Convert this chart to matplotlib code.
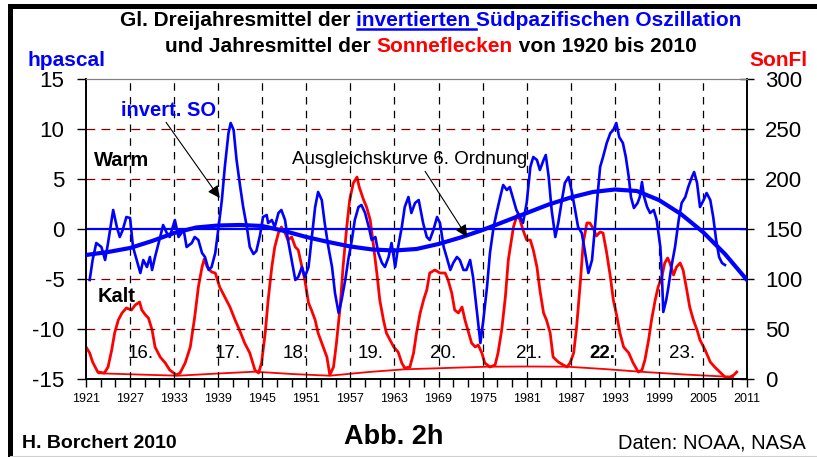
import matplotlib
matplotlib.use("Agg")
import matplotlib.pyplot as plt
from matplotlib.lines import Line2D
from matplotlib import font_manager

plt.rcParams['font.family'] = ['Liberation Sans', 'DejaVu Sans']
names = {f.name for f in font_manager.fontManager.ttflist}
NARROW = 'Liberation Sans Narrow' if 'Liberation Sans Narrow' in names else 'Liberation Sans'

# ---------------- data ----------------
so_years = [1921.5, 1921.9, 1922.4, 1923.1, 1923.6, 1924.0, 1924.7, 1925.2, 1925.6, 1926.0,
            1926.5, 1927.0, 1927.4, 1927.9, 1928.4, 1928.8, 1929.3, 1929.7, 1930.0, 1930.4,
            1931.1, 1931.5, 1932.0, 1932.4, 1933.1, 1933.6, 1934.3, 1934.7, 1935.4, 1935.8,
            1936.3, 1936.8, 1937.2, 1937.7, 1938.1, 1938.6, 1939.0, 1939.5, 1939.9, 1940.4,
            1940.7, 1941.1, 1941.5, 1942.0, 1942.4, 1942.9, 1943.3, 1943.8, 1944.2, 1944.7,
            1945.1, 1945.6, 1945.8, 1946.3, 1946.7, 1947.2, 1947.6, 1948.1, 1948.5, 1949.0,
            1949.5, 1949.9, 1950.4, 1950.8, 1951.3, 1951.7, 1952.2, 1952.6, 1953.1, 1953.5,
            1954.0, 1954.5, 1954.9, 1955.4, 1955.8, 1956.3, 1956.7, 1957.2, 1957.6, 1958.1,
            1958.5, 1959.0, 1959.5, 1959.9, 1960.4, 1960.8, 1961.3, 1961.7, 1962.2, 1962.6,
            1963.1, 1963.5, 1964.0, 1964.4, 1964.9, 1965.3, 1965.8, 1966.3, 1966.9, 1967.4,
            1967.8, 1968.3, 1968.8, 1969.2, 1969.7, 1970.1, 1970.6, 1971.0, 1971.5, 1971.9,
            1972.4, 1972.8, 1973.3, 1973.7, 1974.2, 1974.7, 1975.1, 1975.6, 1976.0, 1976.5,
            1976.9, 1977.4, 1977.8, 1978.3, 1978.7, 1979.2, 1979.6, 1980.1, 1980.5, 1981.0,
            1981.5, 1981.9, 1982.4, 1982.8, 1983.3, 1983.6, 1984.0, 1984.4, 1984.9, 1985.3,
            1985.8, 1986.2, 1986.7, 1987.1, 1987.6, 1988.0, 1988.5, 1988.9, 1989.4, 1989.9,
            1990.3, 1990.6, 1991.0, 1991.4, 1991.9, 1992.4, 1992.8, 1993.2, 1993.6, 1994.1,
            1994.5, 1994.9, 1995.2, 1995.6, 1996.1, 1996.4, 1996.7, 1997.0, 1997.4, 1997.8,
            1998.3, 1998.7, 1999.2, 1999.4, 1999.6, 2000.0, 2000.3, 2000.7, 2001.2, 2001.7,
            2002.1, 2002.6, 2003.0, 2003.5, 2003.8, 2004.2, 2004.6, 2005.1, 2005.5, 2006.0,
            2006.4, 2006.8, 2007.2, 2007.6, 2008.0]
so_values = [-5.1, -3.1, -1.4, -1.8, -3.1, -1.4, 1.9, 0.2, -0.8, -0.1,
             1.2, 1.1, -1.8, -3.1, -4.4, -3.1, -3.8, -2.8, -4.1, -2.8,
             -0.8, 0.4, -0.4, -0.8, 0.9, -0.8, -0.1, -1.8, -1.4, -0.8,
             -1.1, -2.4, -2.8, -4.1, -3.8, -2.4, -0.1, 2.9, 6.2, 9.6,
             10.6, 9.9, 6.9, 4.2, 2.2, 0.2, -1.8, -2.5, -2.2, -0.6,
             1.2, 1.4, 0.6, 0.9, 0.2, 1.6, 1.9, 0.9, -1.1, -3.1,
             -5.1, -4.8, -3.8, -4.8, -3.8, -1.1, 2.2, 3.7, 2.9, 0.6,
             -1.8, -3.8, -6.4, -8.4, -7.1, -5.1, -3.1, -1.1, 0.9, 2.2,
             2.4, 1.6, 0.2, -1.1, -0.8, -2.4, -3.4, -3.8, -2.8, -1.4,
             -3.8, -1.8, 0.2, 2.2, 3.2, 1.6, 2.6, 2.9, 0.6, -0.8,
             -1.1, -0.1, 1.2, 0.6, -1.8, -2.8, -4.1, -3.4, -2.8, -3.1,
             -4.1, -4.1, -3.1, -4.8, -8.1, -11.4, -9.1, -5.8, -2.4, 0.2,
             1.6, 3.2, 4.4, 3.9, 4.2, 2.9, 1.9, 1.2, 0.6, 2.6,
             6.2, 7.2, 6.9, 5.9, 6.9, 7.4, 5.2, 1.9, -0.8, 0.6,
             2.9, 4.6, 5.2, 3.9, 1.9, 0.2, -0.4, -2.1, -4.4, -3.1,
             0.2, 2.9, 6.2, 7.2, 8.6, 9.6, 9.9, 10.6, 9.2, 8.6,
             7.2, 5.2, 3.2, 2.1, 2.6, 3.2, 4.7, 3.2, 2.2, 1.6,
             1.9, 0.9, -1.8, -4.4, -8.3, -7.1, -5.8, -3.8, -1.8, 0.9,
             2.6, 3.2, 4.2, 5.2, 5.7, 4.6, 2.2, 2.9, 3.6, 2.9,
             1.2, -1.1, -2.8, -3.4, -3.6]

fit_years = [1921, 1924, 1927, 1930, 1933, 1936, 1939, 1942, 1945, 1948,
             1951, 1954, 1957, 1960, 1963, 1966, 1969, 1972, 1975, 1978,
             1981, 1984, 1987, 1990, 1993, 1996, 1999, 2002, 2005, 2008, 2011]
fit_values = [-2.6, -2.3, -1.9, -1.2, -0.4, 0.15, 0.35, 0.4, 0.3, -0.2,
              -0.8, -1.3, -1.75, -2.05, -2.15, -2.0, -1.5, -0.85, -0.1, 0.75,
              1.6, 2.45, 3.15, 3.7, 3.95, 3.8, 2.9, 1.5, -0.3, -2.5, -5.1]

ss_years = [1921.0, 1921.5, 1921.9, 1922.6, 1923.5, 1924.0, 1924.5, 1924.9, 1925.4, 1925.9,
            1926.5, 1927.2, 1927.7, 1928.3, 1928.6, 1929.1, 1929.5, 1930.0, 1930.4, 1931.1,
            1931.8, 1932.4, 1933.3, 1933.8, 1934.5, 1935.2, 1935.8, 1936.3, 1936.8, 1937.1,
            1937.5, 1938.1, 1938.6, 1939.2, 1939.9, 1940.6, 1941.3, 1941.9, 1942.6, 1943.3,
            1944.0, 1944.5, 1944.9, 1945.4, 1945.8, 1946.3, 1946.7, 1947.2, 1947.6, 1948.1,
            1948.5, 1949.0, 1949.5, 1949.9, 1950.4, 1950.8, 1951.3, 1951.7, 1952.2, 1952.6,
            1953.1, 1953.8, 1954.2, 1954.7, 1955.1, 1955.6, 1956.0, 1956.5, 1956.9, 1957.4,
            1957.9, 1958.2, 1958.8, 1959.2, 1959.7, 1960.1, 1960.6, 1961.0, 1961.5, 1961.9,
            1962.4, 1962.9, 1963.5, 1964.0, 1964.4, 1965.1, 1965.6, 1966.0, 1966.5, 1967.0,
            1967.4, 1967.8, 1968.5, 1969.2, 1969.9, 1970.3, 1970.8, 1971.2, 1971.7, 1972.2,
            1972.6, 1973.1, 1973.5, 1974.0, 1974.4, 1974.9, 1975.3, 1976.0, 1976.7, 1977.1,
            1977.6, 1978.1, 1978.5, 1979.2, 1979.7, 1980.1, 1980.5, 1981.0, 1981.5, 1981.9,
            1982.4, 1982.8, 1983.3, 1983.7, 1984.2, 1984.6, 1985.3, 1986.0, 1986.5, 1986.9,
            1987.4, 1987.8, 1988.3, 1988.7, 1989.2, 1989.6, 1990.1, 1990.5, 1991.0, 1991.4,
            1991.9, 1992.4, 1992.8, 1993.3, 1993.7, 1994.2, 1994.9, 1995.5, 1996.2, 1996.7,
            1997.1, 1997.6, 1998.0, 1998.5, 1998.9, 1999.4, 1999.8, 2000.2, 2000.5, 2001.0,
            2001.4, 2001.9, 2002.3, 2002.8, 2003.2, 2003.7, 2004.2, 2004.6, 2005.3, 2006.0,
            2006.6, 2007.3, 2008.0, 2008.7, 2009.2, 2009.6]
ss_values = [32, 26, 17, 7, 6, 12, 29, 46, 59, 66,
             71, 69, 74, 77, 69, 64, 61, 49, 32, 22,
             16, 9, 4, 6, 16, 32, 62, 92, 112, 120,
             112, 107, 106, 92, 82, 72, 59, 49, 36, 26,
             9, 6, 16, 46, 79, 112, 132, 146, 152, 146,
             139, 142, 132, 129, 112, 99, 76, 69, 59, 46,
             36, 22, 4, 12, 36, 72, 112, 152, 179, 196,
             202, 192, 179, 172, 159, 136, 106, 79, 59, 46,
             39, 32, 27, 16, 11, 12, 26, 46, 66, 80,
             89, 106, 109, 106, 106, 99, 86, 69, 66, 72,
             59, 46, 36, 32, 34, 26, 16, 12, 14, 26,
             49, 82, 119, 152, 164, 159, 149, 139, 139, 129,
             112, 89, 66, 59, 46, 22, 17, 14, 12, 16,
             26, 52, 96, 136, 156, 156, 150, 143, 147, 146,
             126, 102, 79, 62, 46, 32, 26, 16, 7, 9,
             19, 39, 59, 79, 92, 102, 116, 121, 116, 104,
             112, 116, 109, 89, 72, 59, 49, 39, 29, 17,
             12, 7, 2, 2, 4, 7]

base_years = [1922.7, 1928.0, 1933.5, 1939.0, 1944.0, 1949.0, 1954.2, 1959.5, 1964.4, 1970.0,
              1975.6, 1981.0, 1986.5, 1991.5, 1996.4, 2002.5, 2009.1]
base_values = [5.7, 4.5, 3.3, 5.5, 7.3, 5.0, 3.3, 7.0, 9.7, 11.0,
               12.3, 12.5, 12.3, 10.0, 7.3, 4.5, 2.0]

cycle_labels = ['16.', '17.', '18.', '19.', '20.', '21.', '22.', '23.']
cycle_years = [1928.4, 1940.3, 1949.5, 1959.8, 1969.6, 1981.3, 1991.3, 2002.2]

xtick_years = list(range(1921, 2012, 6))
left_ticks = [-15, -10, -5, 0, 5, 10, 15]
right_ticks = [0, 50, 100, 150, 200, 250, 300]

BLUE = '#0000FF'
RED = '#FF0000'
DARKRED = '#800000'

W, H = 817, 457

# ---------------- figure ----------------
fig = plt.figure(figsize=(W/100, H/100), dpi=100)
ax = fig.add_axes([86/W, 1-379/H, (747-86)/W, (379-79)/H])
ax2 = ax.twinx()
ax.set_zorder(ax2.get_zorder() + 1)
ax.patch.set_visible(False)

ax.set_xlim(1921, 2011)
ax.set_ylim(-15, 15)
ax2.set_ylim(0, 300)

# grid lines
for y in [-10, -5, 5, 10]:
    ax.axhline(y, color=DARKRED, lw=0.9, ls=(0, (7, 5)), zorder=1)
for x in xtick_years[1:-1]:
    ax.axvline(x, color='black', lw=0.9, ls=(0, (6, 5)), zorder=1)
ax.axhline(0, color=BLUE, lw=1.6, zorder=2)

# sunspots (right axis)
ax2.plot(ss_years, ss_values, color=RED, lw=2.0, solid_joinstyle='round')
ax2.plot(base_years, base_values, color=RED, lw=1.3)

# SO and fit (left axis)
ax.plot(so_years, so_values, color=BLUE, lw=1.9, zorder=4, solid_joinstyle='round')
ax.plot(fit_years, fit_values, color=BLUE, lw=3.0, zorder=5)

# ticks
ax.set_xticks(xtick_years)
ax.set_xticks(list(range(1921, 2012, 2)), minor=True)
ax.set_xticklabels([str(y) for y in xtick_years], fontsize=9, family=[NARROW, 'DejaVu Sans'])
ax.tick_params(axis='x', which='both', direction='out', length=6, width=1, pad=4)
ax.set_yticks(left_ticks)
ax.set_yticklabels([str(v) for v in left_ticks], fontsize=16)
ax.tick_params(axis='y', direction='out', length=6.5, width=1, pad=9)
ax2.set_yticks(right_ticks)
ax2.set_yticklabels([str(v) for v in right_ticks], fontsize=16)
ax2.tick_params(axis='y', direction='inout', length=10, width=1, pad=8)

for a in (ax, ax2):
    a.spines['top'].set_color('#808080')
    a.spines['left'].set_linewidth(1.2)
    a.spines['right'].set_linewidth(1.2)
    a.spines['bottom'].set_linewidth(1.2)

# cycle labels
for lab, yr in zip(cycle_labels, cycle_years):
    ax.text(yr, -12.4, lab, fontsize=13.5, ha='center', va='center',
            fontweight='bold' if lab == '22.' else 'normal', zorder=6)

# annotations
ax.text(1925.8, 6.9, 'Warm', fontsize=14.5, fontweight='bold', ha='center', va='center')
ax.text(1925.2, -6.7, 'Kalt', fontsize=14.5, fontweight='bold', ha='center', va='center')
ax.annotate('invert. SO', xy=(1939.2, 3.1), xytext=(1925.8, 11.9),
            fontsize=14.5, fontweight='bold', color=BLUE, ha='left', va='center',
            arrowprops=dict(arrowstyle='-|>', color='black', lw=0.8,
                            mutation_scale=18, shrinkA=0, shrinkB=0,
                            relpos=(0.45, 0.0)), zorder=7)
ax.annotate('Ausgleichskurve 6. Ordnung', xy=(1972.9, -0.8), xytext=(1949.0, 6.9),
            fontsize=13.5, color='black', ha='left', va='center',
            arrowprops=dict(arrowstyle='-|>', color='black', lw=0.8,
                            mutation_scale=18, shrinkA=0, shrinkB=0,
                            relpos=(0.56, 0.0)), zorder=7)

# axis titles
fig.text(28/W, 1-61/H, 'hpascal', fontsize=15, fontweight='bold', color=BLUE,
         ha='left', va='center')
fig.text(808/W, 1-61/H, 'SonFl', fontsize=15, fontweight='bold', color=RED,
         ha='right', va='center')

# title (two lines with coloured parts)
def colored_line(parts, y, xc, fs=15):
    r = fig.canvas.get_renderer()
    objs = []
    for txt, col, ul in parts:
        t = fig.text(0, y, txt, fontsize=fs, fontweight='bold', color=col,
                     ha='left', va='center', family=[NARROW, 'DejaVu Sans'])
        objs.append((t, ul, col))
    widths = [t.get_window_extent(renderer=r).width for t, _, _ in objs]
    total = sum(widths)
    x = xc - total/2
    for (t, ul, col), w in zip(objs, widths):
        t.set_x(x / W)
        if ul:
            bb = t.get_window_extent(renderer=r)
            yl = bb.y0 + 1
            fig.add_artist(Line2D([x/W, (x+w)/W], [yl/H, yl/H],
                                  color=col, lw=1.8, transform=fig.transFigure))
        x += w

fig.canvas.draw()
colored_line([('Gl. Dreijahresmittel der ', 'black', False),
              ('invertierten ', BLUE, True),
              ('Südpazifischen Oszillation', BLUE, False)], 1-20/H, 431)
colored_line([('und Jahresmittel der ', 'black', False),
              ('Sonneflecken', RED, False),
              (' von 1920 bis 2010', 'black', False)], 1-47/H, 431)

# footer
fig.text(22/W, 1-443/H, 'H. Borchert 2010', fontsize=14, fontweight='bold',
         ha='left', va='center', family=[NARROW, 'DejaVu Sans'])
fig.text(394/W, 1-437/H, 'Abb. 2h', fontsize=19.5, fontweight='bold',
         ha='center', va='center')
fig.text(806/W, 1-443/H, 'Daten: NOAA, NASA', fontsize=14.5,
         ha='right', va='center', family=[NARROW, 'DejaVu Sans'])

# figure frame (left and top thick black)
fig.add_artist(Line2D([9.5/W, 9.5/W], [0.5/H, 1-6/H], color='black', lw=3.6,
                      transform=fig.transFigure, solid_capstyle='projecting'))
fig.add_artist(Line2D([9.5/W, 1.0], [1-6/H, 1-6/H], color='black', lw=3.6,
                      transform=fig.transFigure, solid_capstyle='projecting'))
fig.add_artist(Line2D([9.5/W, 1.0], [1.5/H, 1.5/H], color='#d0d0d0', lw=0.8,
                      transform=fig.transFigure))

fig.savefig('out.png', dpi=100)
